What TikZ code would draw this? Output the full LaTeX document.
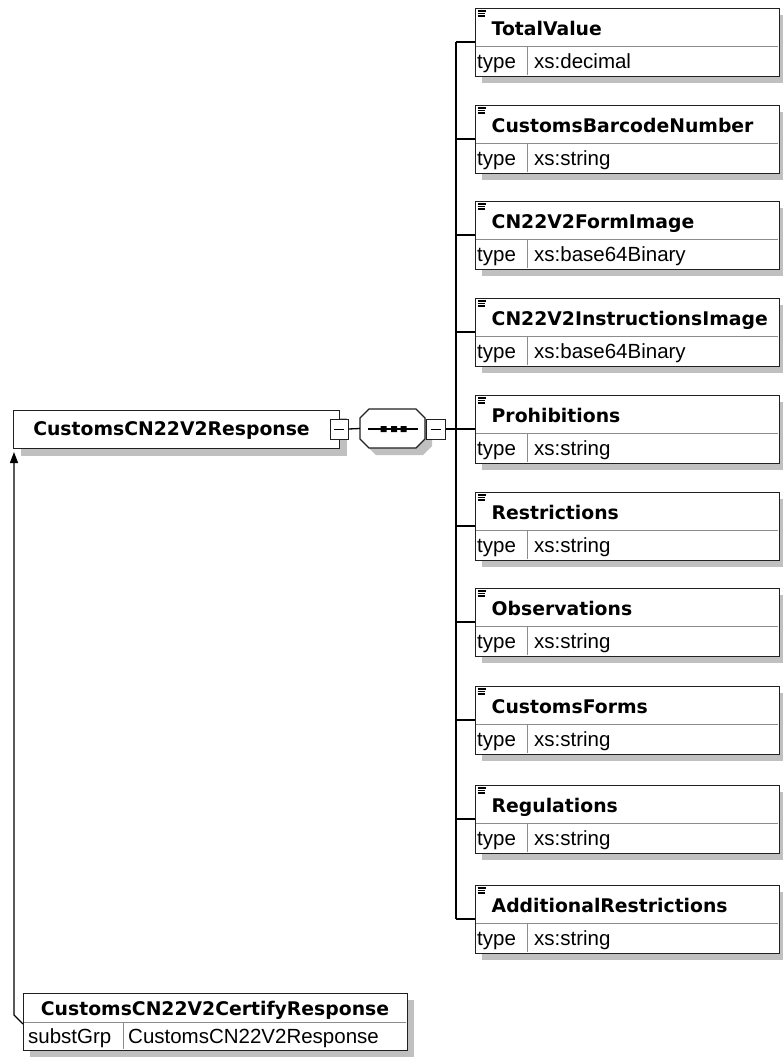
\documentclass[tikz,border=0pt]{standalone}
\usepackage{fontspec}
\setmainfont{Liberation Sans}
\newfontfamily\namefont{DejaVu Sans}
\usetikzlibrary{arrows.meta,calc}
\definecolor{shadowgray}{RGB}{192,192,192}
\definecolor{edge}{RGB}{32,32,32}
\definecolor{divc}{RGB}{140,140,140}
\tikzset{
  box/.style={draw=edge, line width=1.3pt, fill=white, inner sep=0pt, rectangle},
  shadowfill/.style={fill=shadowgray, draw=none},
  nametext/.style={font=\namefont\bfseries\fontsize{18.8}{22}\selectfont, inner sep=0pt},
  typetext/.style={font=\fontsize{20.5}{24}\selectfont, inner sep=0pt},
  conn/.style={draw=black, line width=1.3pt},
  divline/.style={draw=divc, line width=1pt},
  iconline/.style={draw=black, line width=1.1pt},
}
\newcommand\elem[4]{%
  \path[shadowfill] (482,#2+7) rectangle (786,#2+75);
  \node[box, anchor=north west, minimum width=304pt, minimum height=68pt] (#1) at (475,#2) {};
  \draw[divline] (475.7,#2+38) -- (778.3,#2+38);
  \draw[divline] (527,#2+38) -- (527,#2+67.3);
  \draw[iconline] (477.5,#2+3) -- (485.5,#2+3) (477.5,#2+5.5) -- (484.5,#2+5.5) (477.5,#2+8) -- (484.5,#2+8);
  \node[nametext, anchor=base west] (#1n) at (491.5,#2+27) {#3};
  \node[typetext, anchor=base west] (#1k) at (477,#2+60) {type};
  \node[typetext, anchor=base west] (#1v) at (534,#2+60) {#4};
  \coordinate (#1b) at (456,#2+34);
  \draw[conn] (#1b) -- (#1b -| #1.west);
}
\begin{document}
\begin{tikzpicture}[x=1pt,y=-1pt]
\useasboundingbox (0,0) rectangle (783,1061);
% children
\elem{eA}{8}{TotalValue}{xs:decimal}
\elem{eB}{105}{CustomsBarcodeNumber}{xs:string}
\elem{eC}{201}{CN22V2FormImage}{xs:base64Binary}
\elem{eD}{298}{CN22V2InstructionsImage}{xs:base64Binary}
\elem{eE}{395}{Prohibitions}{xs:string}
\elem{eF}{492}{Restrictions}{xs:string}
\elem{eG}{588}{Observations}{xs:string}
\elem{eH}{686}{CustomsForms}{xs:string}
\elem{eI}{785}{Regulations}{xs:string}
\elem{eJ}{885}{AdditionalRestrictions}{xs:string}
\draw[conn] (eAb) -- (eJb);
% main element
\path[shadowfill] (21,418) rectangle (347,456);
\node[box, anchor=north west, minimum width=326pt, minimum height=38pt] (main) at (13,410) {};
\node[nametext, anchor=base] (maint) at (171.5,435) {CustomsCN22V2Response};
\node[box, line width=1pt, minimum width=18pt, minimum height=20pt] (mexp) at (339,429) {};
\draw[line width=1pt] ($(mexp.center)+(-5,0)$) -- ($(mexp.center)+(5,0)$);
% sequence compositor
\path[shadowfill] (376,416) -- (423,416) -- (432,425) -- (432,446) -- (423,455) -- (376,455) -- (367,446) -- (367,425) -- cycle;
\filldraw[fill=white, draw=edge, line width=1.3pt] (369,409) -- (416,409) -- (425,418) -- (425,439) -- (416,448) -- (369,448) -- (360,439) -- (360,418) -- cycle;
\node[inner sep=0pt, minimum width=65pt, minimum height=39pt] (seq) at (392.5,428.5) {};
\draw[line width=1.3pt] (368,429) -- (418,429);
\fill (380.5,426) rectangle (386.5,432) (391,426) rectangle (397,432) (400.5,426) rectangle (406.5,432);
\draw[conn] (mexp.east) -- (seq.west);
\node[box, line width=1pt, minimum width=19pt, minimum height=20pt] (sexp) at (435.5,429) {};
\draw[line width=1pt] ($(sexp.center)+(-5,0)$) -- ($(sexp.center)+(5,0)$);
\coordinate (busm) at (456,429);
\draw[conn] (sexp.east) -- (busm);
% substitution group member
\path[shadowfill] (30,1000) rectangle (414,1057);
\node[box, anchor=north west, minimum width=384pt, minimum height=57pt] (cert) at (23,993) {};
\draw[divline] (23.7,1022) -- (406.3,1022);
\draw[divline] (123,1022) -- (123,1049.3);
\node[nametext, anchor=base] (certn) at (215,1015) {CustomsCN22V2CertifyResponse};
\node[typetext, anchor=base west] (certk) at (28,1043) {substGrp};
\node[typetext, anchor=base west] (certv) at (128,1043) {CustomsCN22V2Response};
\coordinate (cin) at (23,1024);
\coordinate (bend) at (14,1015);
\coordinate (tip) at (14,452);
\draw[conn, -{Triangle[length=11pt,width=8pt]}] (cin) -- (bend) -- (tip);
\end{tikzpicture}
\end{document}
